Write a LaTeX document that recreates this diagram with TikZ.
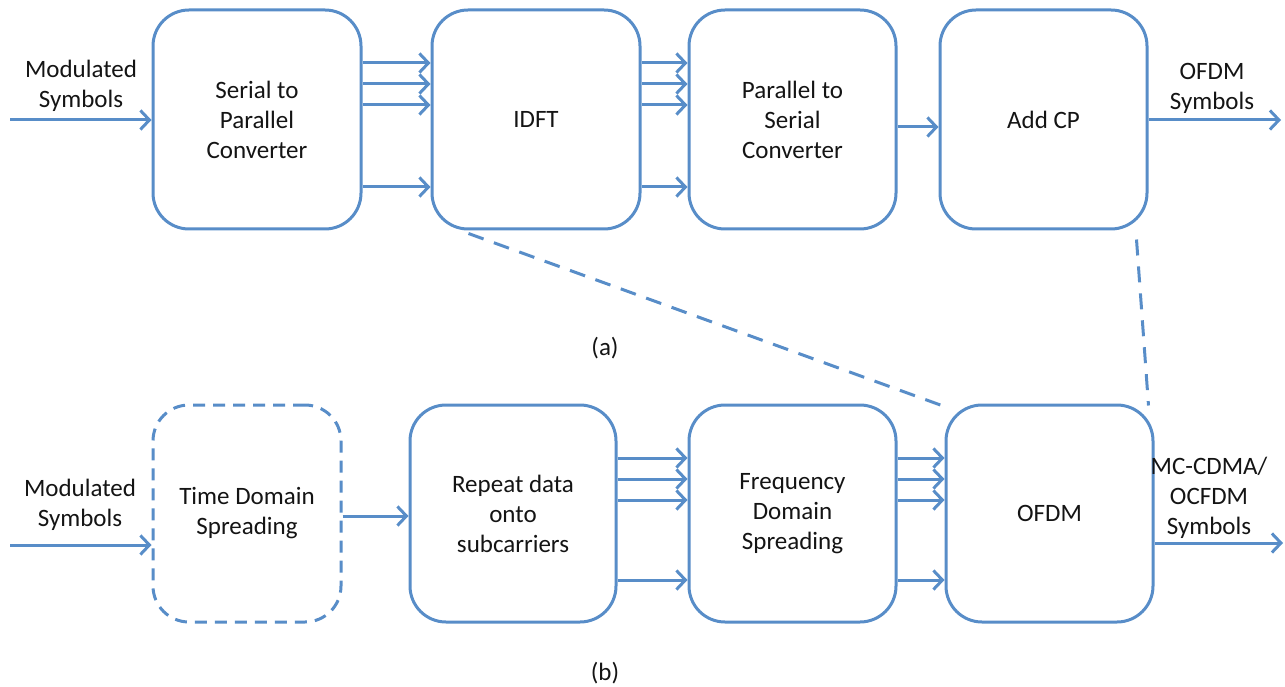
\documentclass[tikz,border=0pt]{standalone}
\usepackage{fontspec}
\setmainfont{Carlito}
\usetikzlibrary{arrows.meta}
\definecolor{lineblue}{RGB}{88,141,200}
\definecolor{txt}{RGB}{20,20,20}
\tikzset{
  blk/.style={draw=lineblue, line width=3pt, rounded corners=36pt, fill=white,
    align=center, text=txt, inner sep=0pt},
  dashblk/.style={blk, dash pattern=on 12pt off 8pt},
  flow/.style={draw=lineblue, line width=3pt,
    -{Straight Barb[length=9pt,width=19pt,line width=3pt]}},
  link/.style={draw=lineblue, line width=3pt, dash pattern=on 16pt off 11pt},
  lbl/.style={align=center, text=txt, inner sep=0pt},
}
\begin{document}
\begin{tikzpicture}[x=1pt, y=-1pt, font=\fontsize{25}{30}\selectfont]
\useasboundingbox (0,0) rectangle (1285,687);

% (a) OFDM transmitter chain
\node[blk, minimum width=208pt, minimum height=219pt] (s2p)  at (257,119.5) {Serial to\\Parallel\\Converter};
\node[blk, minimum width=208pt, minimum height=219pt] (idft) at (536,119.5) {IDFT};
\node[blk, minimum width=207pt, minimum height=219pt] (p2s)  at (792.5,119.5) {Parallel to\\Serial\\Converter};
\node[blk, minimum width=207pt, minimum height=219pt] (cp)   at (1043.5,119.5) {Add CP};

\node[lbl] (inA)  at (81,86) {Modulated\\Symbols};
\node[lbl] (outA) at (1212,88) {OFDM\\Symbols};
\coordinate (srcA) at (10,120);
\coordinate (dstA) at (1281,120);

\draw[flow] (srcA) -- (s2p.west |- srcA);
\foreach \yy in {63,84,105,187}{
  \draw[flow] (s2p.east |- 0,\yy) -- (idft.west |- 0,\yy);
  \draw[flow] (idft.east |- 0,\yy) -- (p2s.west |- 0,\yy);
}
\draw[flow] (p2s.east |- 0,127) -- (cp.west |- 0,127);
\draw[flow] (cp.east |- dstA) -- (dstA);

\node[lbl] (capA) at (605,348) {(a)};

% (b) MC-CDMA / OCFDM transmitter chain
\node[dashblk, minimum width=188pt, minimum height=217pt] (tds)  at (247,513.5) {Time Domain\\Spreading};
\node[blk, minimum width=206pt, minimum height=217pt] (rep)  at (513,513.5) {Repeat data\\onto\\subcarriers};
\node[blk, minimum width=207pt, minimum height=217pt] (fds)  at (792.5,513.5) {Frequency\\Domain\\Spreading};
\node[blk, minimum width=207pt, minimum height=217pt] (ofdm) at (1049.5,513.5) {OFDM};

\node[lbl] (inB)  at (80,505) {Modulated\\Symbols};
\node[lbl] (outB) at (1209,498) {MC-CDMA/\\OCFDM\\Symbols};
\coordinate (srcB) at (10,545);
\coordinate (dstB) at (1283,543);

\draw[flow] (srcB) -- (tds.west |- srcB);
\draw[flow] (tds.east |- 0,516) -- (rep.west |- 0,516);
\foreach \yy in {458,479,500,580}{
  \draw[flow] (rep.east |- 0,\yy) -- (fds.west |- 0,\yy);
  \draw[flow] (fds.east |- 0,\yy) -- (ofdm.west |- 0,\yy);
}
\draw[flow] (ofdm.east |- dstB) -- (dstB);

\node[lbl] (capB) at (605,673) {(b)};

% OFDM block expanded in (a)
\draw[link] ([xshift=38pt,yshift=-3pt]idft.south west) -- ([yshift=-3pt]ofdm.north west);
\draw[link] ([xshift=-12pt,yshift=-9pt]cp.south east) -- ([xshift=-6pt,yshift=-2pt]ofdm.north east);
\end{tikzpicture}
\end{document}
